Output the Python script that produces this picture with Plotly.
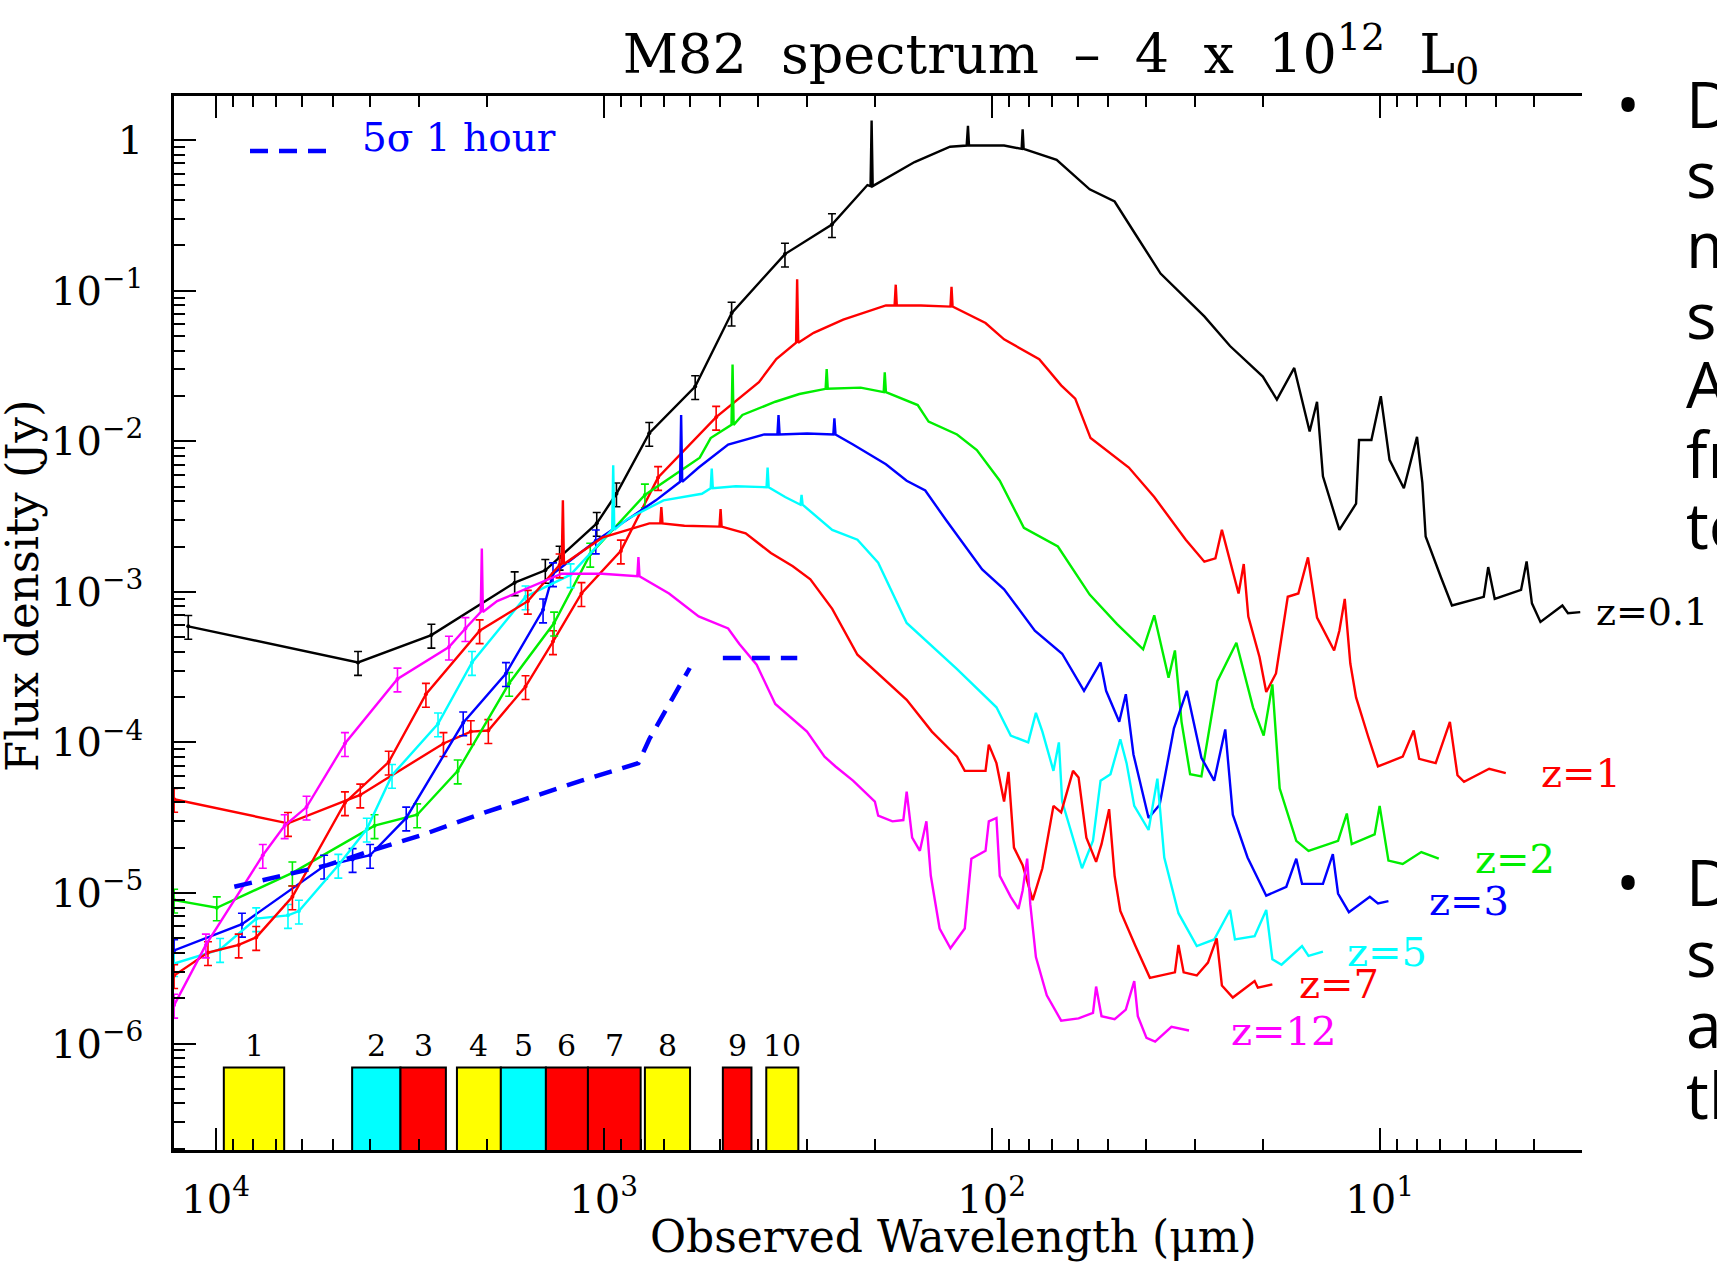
import math
import plotly.graph_objects as go

# ---------------- data (wavelength in micron, flux density in Jy) ----------------
z01_wl = [11770, 4297, 2780, 1696, 1414, 1299, 1042, 927, 763, 581, 468, 341, 258, 209,
          205.2, 203.9, 202.6, 158, 128, 116.0, 115.1, 114.4, 92.9, 83.7, 83.2, 82.7, 68.0,
          55.9, 48.2, 42.6, 36.7, 28.3, 24.3, 20.0, 18.4, 16.6, 15.15, 14.5, 14.0, 12.7, 11.5,
          11.3, 10.5, 9.93, 9.43, 8.66, 8.01, 7.76, 7.61, 6.95, 6.51, 5.39, 5.25, 5.05, 4.32,
          4.18, 4.05, 3.85, 3.38, 3.27, 3.04]
z01_flux = [5.9e-4, 3.40e-4, 5.16e-4, 1.15e-3, 1.39e-3, 1.70e-3, 2.85e-3, 4.48e-3, 1.13e-2,
            2.31e-2, 7.10e-2, 0.175, 0.275, 0.503, 0.495, 1.35, 0.495, 0.715, 0.904, 0.920,
            1.243, 0.920, 0.920, 0.875, 1.18, 0.875, 0.740, 0.471, 0.391, 0.237, 0.130, 0.0675,
            0.0429, 0.0269, 0.0189, 0.0307, 0.0116, 0.0183, 5.85e-3, 2.58e-3, 3.85e-3, 0.0102,
            0.0102, 0.0199, 7.52e-3, 4.87e-3, 0.0107, 5.29e-3, 2.33e-3, 1.25e-3, 8.11e-4,
            9.27e-4, 1.46e-3, 8.97e-4, 1.03e-3, 1.59e-3, 8.39e-4, 6.31e-4, 8.11e-4, 7.21e-4,
            7.33e-4]

z1_wl = [12800, 6512, 4240, 2588, 2200, 1983, 1590, 1351, 1141, 903, 724, 513, 398, 359,
         319.2, 317.2, 315.1, 287.6, 241.3, 187.3, 177.9, 176.7, 175.6, 152.2, 127.7, 126.9,
         126.1, 103.7, 92.9, 75.4, 66.2, 60.9, 55.6, 44.3, 38.1, 31.6, 28.3, 26.5, 25.5, 24.7,
         23.1, 22.4, 21.8, 20.4, 19.6, 18.5, 17.25, 16.2, 15.3, 14.5, 13.1, 12.7, 12.3, 11.9,
         11.5, 10.7, 10.1, 8.72, 8.17, 7.91, 7.17, 6.59, 6.30, 6.06, 5.22, 4.73]
z1_flux = [4.19e-5, 2.90e-5, 4.48e-5, 9.84e-5, 1.18e-4, 1.20e-4, 2.35e-4, 4.67e-4, 9.75e-4,
           1.87e-3, 5.75e-3, 1.445e-2, 2.47e-2, 3.51e-2, 4.51e-2, 0.1192, 4.51e-2, 5.25e-2,
           6.42e-2, 7.98e-2, 7.98e-2, 0.1096, 7.98e-2, 7.98e-2, 7.84e-2, 0.106, 7.84e-2,
           6.10e-2, 4.75e-2, 3.51e-2, 2.35e-2, 1.92e-2, 1.05e-2, 6.69e-3, 4.26e-3, 2.22e-3,
           1.585e-3, 1.67e-3, 2.58e-3, 1.905e-3, 9.75e-4, 1.53e-3, 6.86e-4, 3.69e-4, 2.16e-4,
           2.87e-4, 9.27e-4, 9.75e-4, 1.695e-3, 6.75e-4, 4.08e-4, 5.52e-4, 8.97e-4, 3.34e-4,
           1.99e-4, 1.09e-4, 6.92e-5, 8.04e-5, 1.20e-4, 7.78e-5, 7.28e-5, 1.37e-4, 6.05e-5,
           5.47e-5, 6.68e-5, 6.25e-5]

z2_wl = [12800, 9936, 6344, 3896, 3025, 2378, 1752, 1342, 1083, 783, 565.5, 530, 468.4, 465.4,
         462.4, 439, 361, 313, 267.9, 266.2, 264.5, 217.6, 189.8, 188.6, 187.3, 155.1, 145.4,
         122.8, 109.2, 95.3, 82.6, 67.5, 55.9, 47.5, 40.7, 38.1, 35.0, 33.7, 32.4, 30.8, 28.8,
         26.2, 23.4, 21.2, 19.9, 18.9, 18.1, 16.4, 15.25, 12.8, 12.15, 11.8, 10.3, 10.0, 9.49,
         8.72, 7.81, 7.04]
z2_flux = [8.97e-6, 7.98e-6, 1.36e-5, 2.80e-5, 3.31e-5, 6.47e-5, 2.47e-4, 6.21e-4, 1.78e-3,
           4.40e-3, 7.78e-3, 1.05e-2, 1.285e-2, 3.23e-2, 1.285e-2, 1.495e-2, 1.83e-2, 2.06e-2,
           2.23e-2, 3.02e-2, 2.23e-2, 2.27e-2, 2.12e-2, 2.87e-2, 2.12e-2, 1.74e-2, 1.35e-2,
           1.11e-2, 8.75e-3, 5.47e-3, 2.66e-3, 2.00e-3, 9.59e-4, 6.10e-4, 4.15e-4, 6.98e-4,
           2.69e-4, 4.08e-4, 1.37e-4, 6.15e-5, 5.95e-5, 2.55e-4, 4.59e-4, 1.71e-4, 1.11e-4,
           2.43e-4, 4.95e-5, 2.22e-5, 1.905e-5, 2.22e-5, 3.37e-5, 2.11e-5, 2.45e-5, 3.79e-5,
           1.64e-5, 1.56e-5, 1.87e-5, 1.69e-5]

z3_wl = [12800, 8557, 5256, 4438, 4000, 3228, 2302, 1786, 1433, 1351, 1048, 733.6, 635.6, 631.5,
         627.4, 569, 477.7, 385.5, 356.6, 354.3, 352.0, 299, 255.9, 254.3, 252.6, 227.7, 187.3,
         165.6, 148.3, 131.1, 115.1, 105.8, 92.9, 77.4, 65.8, 57.8, 52.4, 50.7, 46.9, 45.1,
         43.1, 39.4, 36.9, 33.9, 31.4, 28.8, 26.7, 25.0, 23.9, 21.9, 19.6, 17.4, 16.4, 15.85,
         14.0, 13.2, 12.8, 12.0, 10.6, 10.1, 9.49]
z3_flux = [4.15e-6, 6.21e-6, 1.51e-5, 1.67e-5, 1.78e-5, 3.15e-5, 1.35e-4, 2.87e-4, 7.59e-4,
           1.32e-3, 2.18e-3, 4.05e-3, 5.38e-3, 1.495e-2, 5.38e-3, 6.69e-3, 9.51e-3, 1.11e-2,
           1.11e-2, 1.495e-2, 1.11e-2, 1.125e-2, 1.11e-2, 1.42e-2, 1.11e-2, 9.51e-3, 7.04e-3,
           5.47e-3, 4.71e-3, 3.00e-3, 1.905e-3, 1.41e-3, 1.04e-3, 5.52e-4, 3.88e-4, 2.20e-4,
           3.40e-4, 2.20e-4, 1.37e-4, 2.09e-4, 8.32e-5, 3.15e-5, 3.85e-5, 1.24e-4, 2.20e-4,
           7.91e-5, 5.57e-5, 1.22e-4, 3.31e-5, 1.72e-5, 9.59e-6, 1.10e-5, 1.69e-5, 1.15e-5,
           1.15e-5, 1.81e-5, 9.92e-6, 7.46e-6, 9.43e-6, 8.53e-6, 8.82e-6]

z5_wl = [12800, 9743, 7864, 6512, 6103, 4830, 4079, 3512, 2673, 2185, 1590, 1217, 951, 945, 939,
         868.5, 700.9, 558.2, 530, 526.6, 523.2, 456.3, 380.4, 378, 375.6, 340.6, 311, 309,
         307.1, 257.6, 221.8, 196.1, 165.6, 122.8, 97.2, 89.3, 80.5, 76.9, 74.0, 69.3, 67.1,
         65.8, 58.5, 54.8, 52.4, 49.4, 46.6, 44.9, 42.9, 39.4, 37.4, 35.9, 33.0, 29.6, 26.7,
         24.3, 23.6, 21.0, 19.6, 18.9, 17.9, 15.85, 15.25, 14.0]
z5_flux = [3.40e-6, 4.22e-6, 6.75e-6, 7.10e-6, 7.59e-6, 1.53e-5, 2.66e-5, 6.05e-5, 1.33e-4,
           3.40e-4, 9.27e-4, 1.30e-3, 2.58e-3, 6.92e-3, 2.58e-3, 3.05e-3, 4.05e-3, 4.48e-3,
           4.87e-3, 6.58e-3, 4.87e-3, 5.03e-3, 4.95e-3, 6.69e-3, 4.95e-3, 4.26e-3, 3.79e-3,
           4.40e-3, 3.79e-3, 2.58e-3, 2.22e-3, 1.56e-3, 6.21e-4, 3.07e-4, 1.71e-4, 1.11e-4,
           1.00e-4, 1.57e-4, 1.18e-4, 6.47e-5, 1.00e-4, 4.05e-5, 1.46e-5, 2.22e-5, 5.57e-5,
           6.15e-5, 1.05e-4, 7.28e-5, 3.79e-5, 2.62e-5, 5.75e-5, 1.72e-5, 7.34e-6, 4.44e-6,
           4.91e-6, 7.71e-6, 4.91e-6, 5.16e-6, 7.71e-6, 3.63e-6, 3.34e-6, 4.44e-6, 3.82e-6,
           4.08e-6]

z7_wl = [12800, 10470, 8724, 7864, 6344, 4644, 3582, 2872, 2088, 1569, 1299, 1283, 1274, 1266,
         1009, 762.6, 714.8, 710.2, 705.5, 619.4, 503.0, 499.7, 496.6, 430.5, 370.7, 325.5,
         293.3, 257.6, 221.8, 165.6, 142.6, 122.8, 117.3, 103.7, 101.7, 97.2, 92.9, 90.5, 87.6,
         83.2, 78.4, 74.0, 69.3, 66.2, 61.7, 59.7, 57.0, 53.8, 52.1, 49.8, 48.2, 46.6, 42.6,
         39.1, 33.7, 33.0, 32.0, 29.6, 27.7, 26.3, 25.5, 23.9, 21.0, 20.6, 18.9]
z7_flux = [2.83e-6, 4.02e-6, 4.52e-6, 5.07e-6, 9.43e-6, 3.98e-5, 7.40e-5, 2.09e-4, 5.52e-4,
           8.67e-4, 1.51e-3, 1.53e-3, 4.05e-3, 1.53e-3, 2.29e-3, 2.85e-3, 2.85e-3, 3.66e-3,
           2.85e-3, 2.75e-3, 2.71e-3, 3.54e-3, 2.71e-3, 2.45e-3, 1.81e-3, 1.48e-3, 1.21e-3,
           7.71e-4, 3.82e-4, 1.92e-4, 1.18e-4, 8.04e-5, 6.47e-5, 6.47e-5, 9.67e-5, 7.28e-5,
           4.05e-5, 6.37e-5, 2.00e-5, 1.53e-5, 8.97e-6, 1.46e-5, 3.79e-5, 3.43e-5, 6.47e-5,
           5.85e-5, 2.33e-5, 1.61e-5, 2.11e-5, 3.60e-5, 1.30e-5, 7.59e-6, 4.44e-6, 2.73e-6,
           2.97e-6, 4.52e-6, 2.97e-6, 2.83e-6, 3.45e-6, 4.99e-6, 2.43e-6, 2.02e-6, 2.60e-6,
           2.35e-6, 2.47e-6]

z12_wl = [12800, 10600, 7562, 6641, 5832, 4644, 3400, 2505, 2272, 2075, 2061, 2048, 1882, 1539,
          1283, 1009, 819, 813.7, 808.5, 678.5, 569, 477.7, 447.5, 403.4, 361.2, 299.2, 269.6,
          252.6, 227.7, 200, 196.1, 180.2, 168.9, 165.6, 160.3, 153.1, 147.3, 143.5, 136.2,
          127.7, 117.3, 112.8, 103.7, 101.7, 97.2, 95.3, 89.3, 85.3, 83.2, 81.0, 79.5, 76.9,
          72.1, 66.2, 59.7, 54.8, 53.8, 52.1, 48.2, 45.1, 42.9, 42.0, 39.9, 37.9, 34.4, 31.0]
z12_flux = [1.80e-6, 4.52e-6, 1.78e-5, 2.80e-5, 3.72e-5, 9.84e-5, 2.64e-4, 4.30e-4, 5.71e-4,
            7.34e-4, 1.94e-3, 7.34e-4, 8.67e-4, 1.08e-3, 1.32e-3, 1.32e-3, 1.27e-3, 1.70e-3,
            1.27e-3, 9.75e-4, 6.86e-4, 5.71e-4, 4.52e-4, 3.28e-4, 1.80e-4, 1.18e-4, 8.04e-5,
            6.92e-5, 5.57e-5, 4.05e-5, 3.26e-5, 2.99e-5, 3.05e-5, 4.71e-5, 2.33e-5, 1.905e-5,
            2.99e-5, 1.30e-5, 5.81e-6, 4.29e-6, 5.81e-6, 1.69e-5, 1.905e-5, 2.99e-5, 3.15e-5,
            1.30e-5, 9.43e-6, 7.84e-6, 1.04e-5, 1.69e-5, 8.39e-6, 3.75e-6, 2.09e-6, 1.42e-6,
            1.47e-6, 1.60e-6, 2.39e-6, 1.52e-6, 1.45e-6, 1.68e-6, 2.60e-6, 1.52e-6, 1.09e-6,
            1.03e-6, 1.29e-6, 1.22e-6]

# 5 sigma, 1 hour sensitivity (dashed)
sens_wl = [8954, 6344, 5154, 3896, 2909, 2022, 1539, 1141, 814, 763, 600, None, 493, 317]
sens_flux = [1.10e-5, 1.36e-5, 1.53e-5, 1.94e-5, 2.45e-5, 3.43e-5, 4.33e-5, 5.57e-5, 7.28e-5,
             1.05e-4, 3.12e-4, None, 3.63e-4, 3.63e-4]

# observing bands
band_labels = ["1", "2", "3", "4", "5", "6", "7", "8", "9", "10"]
band_lo_um = [6660, 3340, 2551, 1841, 1409, 1098, 803, 599, 416, 315]
band_hi_um = [9530, 4450, 3340, 2389, 1841, 1409, 1098, 783, 493, 381]
band_colors = ["#ffff00", "#00ffff", "#ff0000", "#ffff00", "#00ffff",
               "#ff0000", "#ff0000", "#ffff00", "#ff0000", "#ffff00"]
band_top = 6.92e-7
band_floor = 1e-8

series = [
    ("z=0.1", z01_wl, z01_flux, "#000000", 13),
    ("z=1", z1_wl, z1_flux, "#ff0000", 12),
    ("z=2", z2_wl, z2_flux, "#00ee00", 10),
    ("z=3", z3_wl, z3_flux, "#0000ff", 11),
    ("z=5", z5_wl, z5_flux, "#00ffff", 12),
    ("z=7", z7_wl, z7_flux, "#ff0000", 11),
    ("z=12", z12_wl, z12_flux, "#ff00ff", 9),
]
label_shift = {"z=0.1": 14, "z=1": 33, "z=2": 34, "z=3": 39, "z=5": 22, "z=7": 25, "z=12": 40}

SERIF = "DejaVu Serif"
W, H = 1717, 1263
L_PX, R_PX, T_PX, B_PX = 174, 1582, 96, 1150
fig = go.Figure()

# bands
for lo, hi, col in zip(band_lo_um, band_hi_um, band_colors):
    fig.add_trace(go.Scatter(
        x=[hi, lo, lo, hi, hi], y=[band_floor, band_floor, band_top, band_top, band_floor],
        mode="lines", fill="toself", fillcolor=col,
        line=dict(color="black", width=2), hoverinfo="skip"))

# spectra
for name, wl, fl, col, nphot in series:
    fig.add_trace(go.Scatter(x=wl, y=fl, mode="lines", line=dict(color=col, width=2.4),
                             name=name))
    fig.add_trace(go.Scatter(x=wl[:nphot], y=fl[:nphot], mode="markers",
                             marker=dict(color=col, size=4),
                             error_y=dict(type="percent", value=18, color=col,
                                          thickness=1.6, width=4)))

fig.add_trace(go.Scatter(x=sens_wl, y=sens_flux, mode="lines", connectgaps=False,
                         line=dict(color="#0000ff", width=4.5, dash="18px,11px")))


def paper_x(px):
    return (px - L_PX) / (R_PX - L_PX)


def paper_y(py):
    return (B_PX - py) / (B_PX - T_PX)


annotations = []
for name, wl, fl, col, nphot in series:
    annotations.append(dict(
        x=math.log10(wl[-1]), y=math.log10(fl[-1]), xref="x", yref="y",
        text=name, showarrow=False, xanchor="left", yanchor="middle",
        xshift=label_shift[name],
        font=dict(family=SERIF, size=38 if name == "z=0.1" else 40, color=col)))

for lab, lo, hi in zip(band_labels, band_lo_um, band_hi_um):
    annotations.append(dict(
        x=(math.log10(lo) + math.log10(hi)) / 2, y=math.log10(band_top), xref="x", yref="y",
        text=lab, showarrow=False, xanchor="center", yanchor="bottom", yshift=3,
        font=dict(family=SERIF, size=30, color="black")))

# legend text
annotations.append(dict(x=paper_x(360), y=paper_y(137), xref="paper", yref="paper",
                        text="5σ 1 hour", showarrow=False, xanchor="left", yanchor="middle",
                        font=dict(family=SERIF, size=39, color="#0000ff")))
# axis titles
annotations.append(dict(x=paper_x(22), y=paper_y(586), xref="paper", yref="paper",
                        text="Flux density (Jy)", textangle=-90, showarrow=False,
                        xanchor="center", yanchor="middle",
                        font=dict(family=SERIF, size=45, color="black")))
annotations.append(dict(x=paper_x(953), y=paper_y(1236), xref="paper", yref="paper",
                        text="Observed Wavelength (μm)", showarrow=False,
                        xanchor="center", yanchor="middle",
                        font=dict(family=SERIF, size=44, color="black")))

# slide text cut off at the right edge of the picture
slide_font = dict(family="Open Sans", size=64, color="black")
block1 = ["D", "s", "m", "s", "A", "fr", "to"]
block2 = ["D", "s", "a", "th"]
for i, t in enumerate(block1):
    annotations.append(dict(x=paper_x(1684), y=paper_y(104 + 70 * i), xref="paper",
                            yref="paper", text=t, showarrow=False, xanchor="left",
                            yanchor="middle", font=slide_font))
for i, t in enumerate(block2):
    annotations.append(dict(x=paper_x(1684), y=paper_y(881 + 71 * i), xref="paper",
                            yref="paper", text=t, showarrow=False, xanchor="left",
                            yanchor="middle", font=slide_font))
for yc in (104, 881):
    annotations.append(dict(x=paper_x(1628), y=paper_y(yc), xref="paper", yref="paper",
                            text="•", showarrow=False, xanchor="center", yanchor="middle",
                            font=slide_font))

NB = "\u00a0"
title_text = ("M82" + NB * 2 + "spectrum" + NB * 2 + "–" + NB * 2 + "4" + NB * 2 + "x"
              + NB * 2 + "10<sup>12</sup>" + NB * 2 + "L<sub>0</sub>")

fig.update_layout(
    width=W, height=H,
    margin=dict(l=L_PX, r=W - R_PX, t=T_PX, b=H - B_PX),
    paper_bgcolor="white", plot_bgcolor="white", showlegend=False,
    font=dict(family=SERIF, color="black"),
    title=dict(text=title_text, x=1051 / W, xanchor="center", y=1 - 54 / H, yanchor="middle",
               font=dict(family=SERIF, size=54, color="black")),
    annotations=annotations,
    shapes=[dict(type="line", xref="paper", yref="paper", x0=paper_x(250), x1=paper_x(326),
                 y0=paper_y(151), y1=paper_y(151),
                 line=dict(color="#0000ff", width=4.5, dash="18px,11px"))],
)

x_minor = [k * 10 ** d for d in range(0, 5) for k in range(2, 10)]
y_minor = [k * 10.0 ** d for d in range(-7, 1) for k in range(2, 10)]

fig.update_xaxes(
    type="log", range=[4.1075, 0.4784], tickmode="array",
    tickvals=[1e4, 1e3, 1e2, 1e1],
    ticktext=["10<sup>4</sup>", "10<sup>3</sup>", "10<sup>2</sup>", "10<sup>1</sup>"],
    ticks="inside", ticklen=22, tickwidth=2, tickcolor="black",
    showline=True, linewidth=2.5, linecolor="black", mirror="ticks",
    showgrid=False, zeroline=False, ticklabelstandoff=12,
    tickfont=dict(family=SERIF, size=40, color="black"),
    minor=dict(tickmode="array", tickvals=x_minor, ticks="inside", ticklen=11,
               tickwidth=1.6, tickcolor="black", showgrid=False))
fig.update_yaxes(
    type="log", range=[-6.707, 0.293], tickmode="array",
    tickvals=[1, 1e-1, 1e-2, 1e-3, 1e-4, 1e-5, 1e-6],
    ticktext=["1", "10<sup>−1</sup>", "10<sup>−2</sup>", "10<sup>−3</sup>",
              "10<sup>−4</sup>", "10<sup>−5</sup>", "10<sup>−6</sup>"],
    ticks="inside", ticklen=22, tickwidth=2, tickcolor="black",
    showline=True, linewidth=2.5, linecolor="black", mirror=False,
    showgrid=False, zeroline=False, ticklabelstandoff=20,
    tickfont=dict(family=SERIF, size=40, color="black"),
    minor=dict(tickmode="array", tickvals=y_minor, ticks="inside", ticklen=11,
               tickwidth=1.6, tickcolor="black", showgrid=False))

fig.write_html("out.html", config={"displayModeBar": False},
               post_script="document.body.style.margin='0';document.body.style.overflow='hidden';")
